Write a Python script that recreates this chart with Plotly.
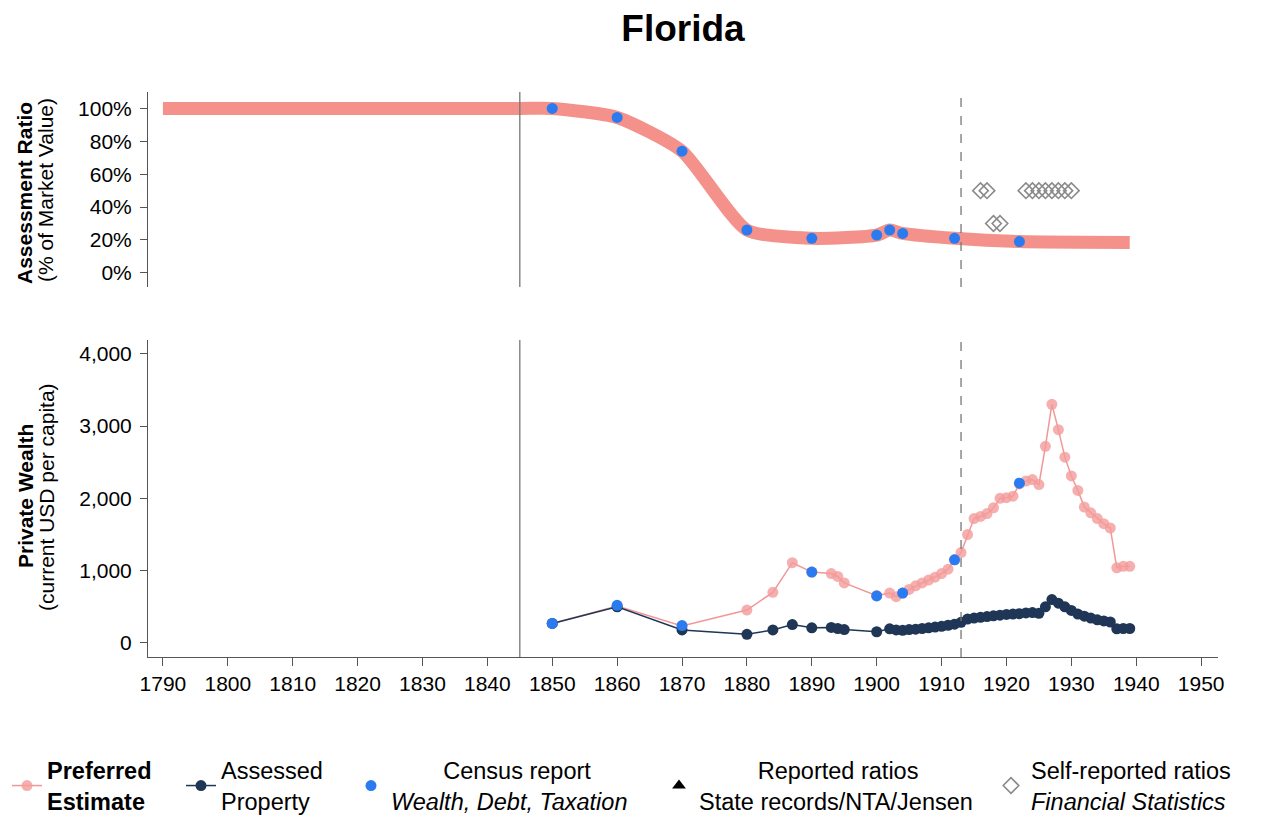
import plotly.graph_objects as go

# ---------------- data ----------------
# Top panel: assessment ratio (% of market value)
ratio_pref_years = [1790, 1845, 1850, 1860, 1870, 1880, 1890, 1900, 1902, 1904, 1912, 1922, 1939]
ratio_pref_vals = [100, 100, 100, 94.5, 74, 26, 21, 23, 26, 24, 21, 19, 18.5]

ratio_census_years = [1850, 1860, 1870, 1880, 1890, 1900, 1902, 1904, 1912, 1922]
ratio_census_vals = [100, 94.5, 74, 26, 21, 23, 26, 24, 21, 19]

self_rep_years = [1916, 1917, 1918, 1919, 1923, 1924, 1925, 1926, 1927, 1928, 1929, 1930]
self_rep_vals = [50, 50, 30, 30, 50, 50, 50, 50, 50, 50, 50, 50]

ratio_ticks = [0, 20, 40, 60, 80, 100]
ratio_tick_labels = ["0%", "20%", "40%", "60%", "80%", "100%"]

# Bottom panel: private wealth (current USD per capita)
pref_years = [1850, 1860, 1870, 1880, 1884, 1887, 1890, 1893, 1894, 1895, 1900, 1902, 1903,
              1904, 1905, 1906, 1907, 1908, 1909, 1910, 1911, 1912, 1913, 1914, 1915, 1916,
              1917, 1918, 1919, 1920, 1921, 1922, 1923, 1924, 1925, 1926, 1927, 1928, 1929,
              1930, 1931, 1932, 1933, 1934, 1935, 1936, 1937, 1938, 1939]
pref_vals = [270, 510, 235, 455, 700, 1110, 980, 960, 920, 830, 655, 690, 640,
             690, 740, 790, 830, 870, 910, 960, 1020, 1150, 1250, 1500, 1720, 1750,
             1790, 1870, 2000, 2010, 2030, 2200, 2240, 2260, 2190, 2720, 3300, 2950, 2570,
             2310, 2110, 1880, 1800, 1720, 1650, 1590, 1040, 1060, 1060]

assessed_years = [1850, 1860, 1870, 1880, 1884, 1887, 1890, 1893, 1894, 1895, 1900, 1902, 1903,
                  1904, 1905, 1906, 1907, 1908, 1909, 1910, 1911, 1912, 1913, 1914, 1915, 1916,
                  1917, 1918, 1919, 1920, 1921, 1922, 1923, 1924, 1925, 1926, 1927, 1928, 1929,
                  1930, 1931, 1932, 1933, 1934, 1935, 1936, 1937, 1938, 1939]
assessed_vals = [270, 500, 180, 120, 180, 255, 210, 215, 200, 185, 155, 195, 180,
                 175, 185, 190, 200, 210, 220, 230, 245, 260, 285, 330, 345, 355,
                 365, 375, 385, 395, 400, 405, 415, 420, 410, 500, 600, 550, 500,
                 450, 400, 370, 345, 320, 305, 290, 195, 200, 200]

census_years = [1850, 1860, 1870, 1890, 1900, 1904, 1912, 1922]
census_vals = [270, 520, 240, 980, 650, 690, 1150, 2210]

wealth_ticks = [0, 1000, 2000, 3000, 4000]
x_ticks = list(range(1790, 1951, 10))

statehood_year = 1845
break_year = 1913

# ---------------- styles ----------------
FONT = "Liberation Sans, Arial, Helvetica, sans-serif"
PINK_THICK = "rgba(241,130,122,0.88)"
PINK = "rgba(244,155,155,0.8)"
PINK_LINE = "rgba(240,140,140,0.9)"
NAVY = "#1f3656"
BLUE = "#2b7bf0"
GRAY = "#8a8a8a"
AX = "#555555"
TICK_SIZE = 21
LEG_SIZE = 23.5

# window is 1267x816; the page body has an 8px margin
OFF = 8
W, H = 1267 - OFF, 816 - OFF
def px_x(p):
    return (p - OFF) / W
def px_y(p):
    return 1 - (p - OFF) / H

fig = go.Figure()

# ---- top panel ----
fig.add_trace(go.Scatter(
    x=ratio_pref_years, y=ratio_pref_vals, mode="lines",
    line=dict(color=PINK_THICK, width=13, shape="spline", smoothing=0.6),
    xaxis="x", yaxis="y", showlegend=False, hoverinfo="skip"))
fig.add_trace(go.Scatter(
    x=ratio_census_years, y=ratio_census_vals, mode="markers",
    marker=dict(color=BLUE, size=11),
    xaxis="x", yaxis="y", showlegend=False, legendgroup="census"))
fig.add_trace(go.Scatter(
    x=self_rep_years, y=self_rep_vals, mode="markers",
    marker=dict(symbol="diamond-open", color=GRAY, size=12, line=dict(width=1.6, color=GRAY)),
    xaxis="x", yaxis="y", legend="legend5",
    name="Self-reported ratios<br><i>Financial Statistics</i>"))

# ---- bottom panel ----
fig.add_trace(go.Scatter(
    x=pref_years, y=pref_vals, mode="lines+markers",
    line=dict(color=PINK_LINE, width=1.5),
    marker=dict(color=PINK, size=11),
    xaxis="x2", yaxis="y2", legend="legend",
    name="<b>Preferred<br>Estimate</b>"))
fig.add_trace(go.Scatter(
    x=assessed_years, y=assessed_vals, mode="lines+markers",
    line=dict(color=NAVY, width=1.5),
    marker=dict(color=NAVY, size=11),
    xaxis="x2", yaxis="y2", legend="legend2",
    name="Assessed<br>Property"))
fig.add_trace(go.Scatter(
    x=census_years, y=census_vals, mode="markers",
    marker=dict(color=BLUE, size=11),
    xaxis="x2", yaxis="y2", legend="legend3", legendgroup="census",
    name="\u00a0" * 8 + "Census report<br><i>Wealth, Debt, Taxation</i>"))
fig.add_trace(go.Scatter(
    x=[None], y=[None], mode="markers",
    marker=dict(symbol="triangle-up", color="black", size=12),
    xaxis="x2", yaxis="y2", legend="legend4",
    name="\u00a0" * 9 + "Reported ratios<br>State records/NTA/Jensen"))

# ---- reference lines ----
shapes = []
for xr, yr in (("x", "y domain"), ("x2", "y2 domain")):
    shapes.append(dict(type="line", xref=xr, yref=yr, x0=statehood_year, x1=statehood_year,
                       y0=0, y1=1, line=dict(color="#777777", width=1.3)))
    shapes.append(dict(type="line", xref=xr, yref=yr, x0=break_year, x1=break_year,
                       y0=0, y1=1, line=dict(color="#777777", width=1.3, dash="dash")))

xrange = [1787.7, 1952.6]
xdom = [px_x(148), px_x(1218)]

legend_common = dict(orientation="h", yanchor="middle", y=px_y(786), xanchor="left",
                     font=dict(family=FONT, size=LEG_SIZE, color="black"),
                     bgcolor="rgba(0,0,0,0)", itemclick=False, itemdoubleclick=False)

title_font = dict(size=21, family=FONT, color="black")

fig.update_layout(
    width=W, height=H,
    margin=dict(l=0, r=0, t=0, b=0, autoexpand=False),
    paper_bgcolor="white", plot_bgcolor="white",
    font=dict(family=FONT, size=TICK_SIZE, color="black"),
    title=dict(text="<b>Florida</b>", x=px_x(683), xanchor="center",
               y=px_y(28), yanchor="middle", font=dict(size=37, family=FONT, color="black")),
    xaxis=dict(domain=xdom, range=xrange, anchor="y", showline=False, showticklabels=False,
               ticks="", showgrid=False, zeroline=False, matches="x2", automargin=False),
    yaxis=dict(domain=[px_y(287), px_y(92)], range=[-8.6, 110], showline=True,
               linecolor=AX, linewidth=1, ticks="outside", ticklen=7, tickcolor=AX,
               tickvals=ratio_ticks, ticktext=ratio_tick_labels, showgrid=False,
               zeroline=False, anchor="x", automargin=False, ticklabelstandoff=4,
               tickfont=dict(size=TICK_SIZE)),
    xaxis2=dict(domain=xdom, range=xrange, anchor="y2", showline=True, linecolor=AX,
                linewidth=1, ticks="outside", ticklen=8, tickcolor=AX, tickvals=x_ticks,
                showgrid=False, zeroline=False, automargin=False,
                tickfont=dict(size=TICK_SIZE)),
    yaxis2=dict(domain=[px_y(657), px_y(340)], range=[-194, 4190], showline=True,
                linecolor=AX, linewidth=1, ticks="outside", ticklen=7, tickcolor=AX,
                tickvals=wealth_ticks, tickformat=",d", showgrid=False,
                zeroline=False, anchor="x2", automargin=False, ticklabelstandoff=4,
                tickfont=dict(size=TICK_SIZE)),
    shapes=shapes,
    legend=dict(legend_common, x=px_x(7)),
    legend2=dict(legend_common, x=px_x(181)),
    legend3=dict(legend_common, x=px_x(351)),
    legend4=dict(legend_common, x=px_x(659)),
    legend5=dict(legend_common, x=px_x(991)),
    annotations=[
        dict(text="<b>Assessment Ratio</b>", textangle=-90, x=px_x(25), y=px_y(193),
             xanchor="center", yanchor="middle",
             xref="paper", yref="paper", showarrow=False, font=title_font),
        dict(text="(% of Market Value)", textangle=-90, x=px_x(46), y=px_y(190),
             xanchor="center", yanchor="middle",
             xref="paper", yref="paper", showarrow=False, font=title_font),
        dict(text="<b>Private Wealth</b>", textangle=-90, x=px_x(25), y=px_y(496),
             xanchor="center", yanchor="middle",
             xref="paper", yref="paper", showarrow=False, font=title_font),
        dict(text="(current USD per capita)", textangle=-90, x=px_x(46), y=px_y(497),
             xanchor="center", yanchor="middle",
             xref="paper", yref="paper", showarrow=False, font=title_font),
    ],
)

fig.write_html("out.html")
